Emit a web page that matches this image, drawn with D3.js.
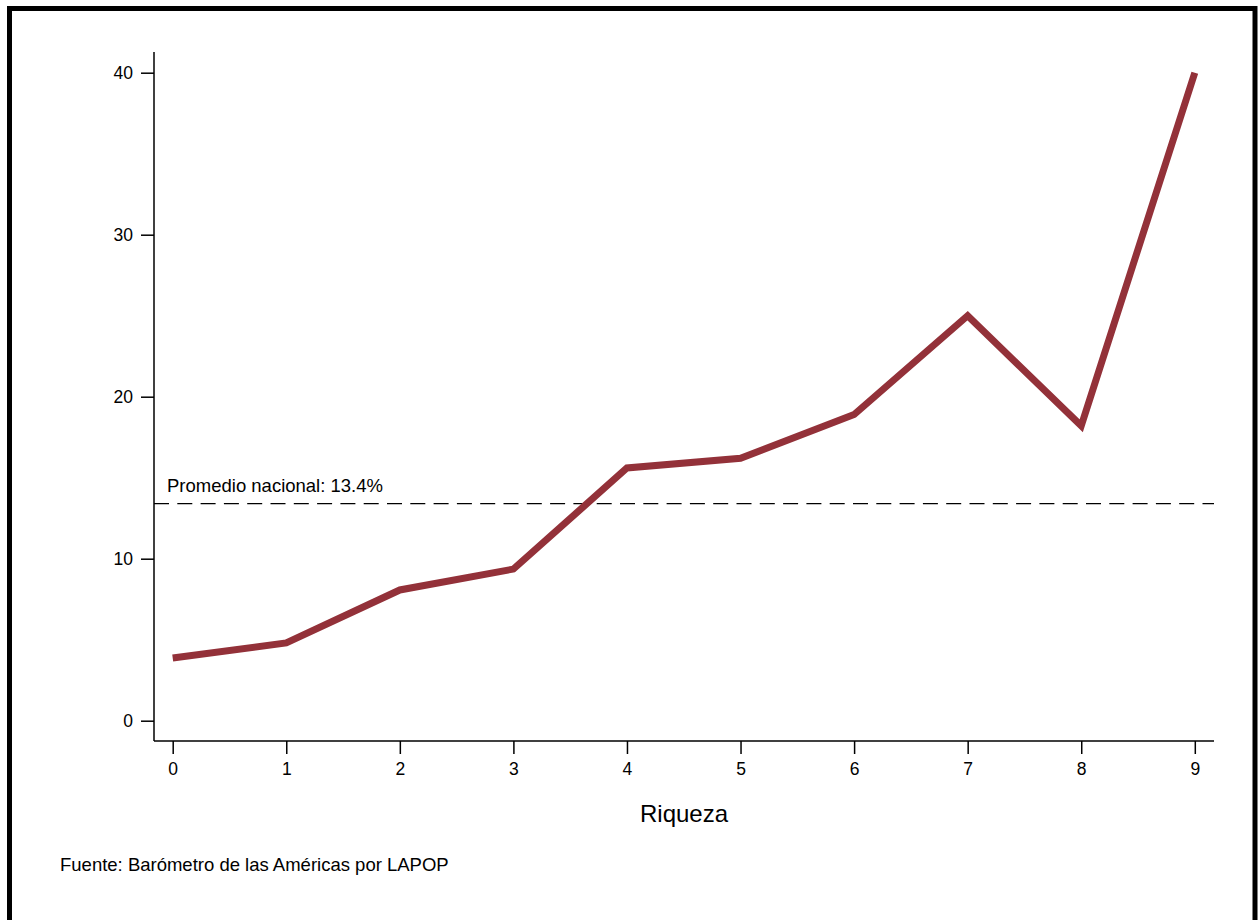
<!DOCTYPE html>
<html><head><meta charset="utf-8">
<script src="https://cdn.jsdelivr.net/npm/d3@7"></script>
<style>body{margin:0;background:#fff}svg{display:block;font-family:"Liberation Sans",Arial,sans-serif}</style>
</head><body>
<script>
const categories = [0,1,2,3,4,5,6,7,8,9];
const values = [3.87, 4.8, 8.07, 9.36, 15.6, 16.2, 18.9, 25.0, 18.2, 40.0];
const yTicks = [0,10,20,30,40];
const nationalAvg = 13.4;
const avgLabel = "Promedio nacional: 13.4%";
const xTitle = "Riqueza";
const source = "Fuente: Barómetro de las Américas por LAPOP";

(function(){
const W = 1258, H = 920;
const svg = d3.select("body").append("svg").attr("width", W).attr("height", H);
svg.append("rect").attr("x",0).attr("y",0).attr("width",W).attr("height",H).attr("fill","#fff");
// frame
svg.append("rect").attr("x",9.5).attr("y",8.5).attr("width",1245.5).attr("height",930)
  .attr("fill","none").attr("stroke","#000").attr("stroke-width",5);

const x = d3.scaleLinear().domain([0,9]).range([172.7,1194.8]);
const y = d3.scaleLinear().domain([0,40]).range([720.7,72.7]);
const pLeft = 154, pRight = 1214, pTop = 52, pBottom = 741;
const ff = "Liberation Sans, Arial, sans-serif";

// dashed average line
svg.append("line").attr("x1",pLeft).attr("x2",pRight).attr("y1",y(nationalAvg)).attr("y2",y(nationalAvg))
  .attr("stroke","#000").attr("stroke-width",1.3).attr("stroke-dasharray","15,8.3");
svg.append("text").attr("x",167).attr("y",492).attr("font-size",18.5).attr("fill","#000").text(avgLabel);

// line
svg.append("path").datum(categories.map((c,i)=>[c,values[i]]))
  .attr("d", d3.line().x(d=>x(d[0])).y(d=>y(d[1])))
  .attr("fill","none").attr("stroke","#933139").attr("stroke-width",7).attr("stroke-linejoin","miter");

// axes
const yAxis = d3.axisLeft(y).tickValues(yTicks).tickSize(13).tickPadding(8).tickFormat(d3.format("d"));
const gy = svg.append("g").attr("transform",`translate(${pLeft},0)`).call(yAxis);
gy.select(".domain").attr("d",`M0,${pTop}V${pBottom}`).attr("stroke-width",1.5);
gy.selectAll(".tick line").attr("stroke-width",1.5);
gy.selectAll("text").attr("font-size",17.5).attr("font-family",ff).attr("fill","#000");

const xAxis = d3.axisBottom(x).tickValues(categories).tickSize(13).tickPadding(9).tickFormat(d3.format("d"));
const gx = svg.append("g").attr("transform",`translate(0,${pBottom})`).call(xAxis);
gx.select(".domain").attr("d",`M${pLeft},0H${pRight}`).attr("stroke-width",1.5);
gx.selectAll(".tick line").attr("stroke-width",1.5);
gx.selectAll("text").attr("font-size",17.5).attr("font-family",ff).attr("fill","#000");

svg.append("text").attr("x",(pLeft+pRight)/2).attr("y",822).attr("text-anchor","middle").attr("font-size",24).text(xTitle);
svg.append("text").attr("x",60).attr("y",871).attr("font-size",18.5).text(source);
})();
</script>
</body></html>
